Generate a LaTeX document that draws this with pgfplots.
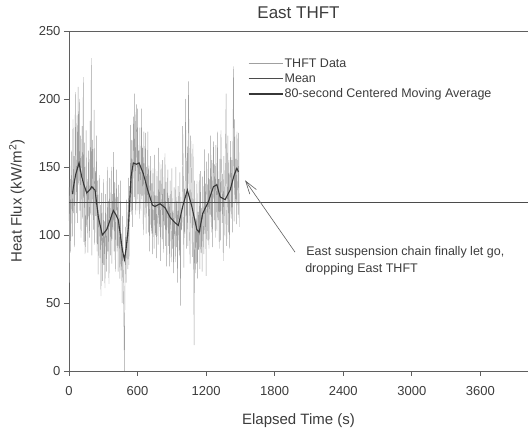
\documentclass[border=0pt]{standalone}
\usepackage{fontspec}
\setmainfont{Liberation Sans}
\usepackage{pgfplots}
\pgfplotsset{compat=1.18}
\usetikzlibrary{arrows.meta}
\definecolor{txt}{RGB}{60,60,60}
\definecolor{axc}{RGB}{95,95,95}
\definecolor{raw}{RGB}{160,160,160}
\definecolor{meanc}{RGB}{75,75,75}
\definecolor{mac}{RGB}{55,55,55}
\begin{document}
\begin{tikzpicture}
\useasboundingbox (-69pt,-63pt) rectangle (459pt,371pt);
\begin{axis}[
 scale only axis, width=459pt, height=340pt,
 xmin=0, xmax=4017, ymin=0, ymax=250,
 axis x line*=box, axis y line*=left, xtick pos=bottom, ytick pos=left,
 xtick={0,600,1200,1800,2400,3000,3600}, ytick={0,50,100,150,200,250},
 tick align=outside, major tick length=5pt,
 axis line style={axc, line width=0.6pt}, tick style={axc, line width=0.6pt},
 ticklabel style={font=\fontsize{13}{15}\selectfont, text=txt},
 /pgf/number format/assume math mode=true,
 scaled ticks=false, xticklabel style={/pgf/number format/1000 sep={}, yshift=-7pt},
 title={East THFT},
 title style={font=\fontsize{17}{20}\selectfont, text=txt, at={(axis description cs:0.5,1)}, anchor=base, yshift=7pt},
 xlabel={Elapsed Time (s)}, ylabel={Heat Flux (kW/m\textsuperscript{2})},
 every axis x label/.style={at={(axis description cs:0.5,-0.1559)}, anchor=base, font=\fontsize{15}{18}\selectfont, text=txt},
 every axis y label/.style={at={(axis description cs:-0.1133,0.5)}, rotate=90, anchor=center, font=\fontsize{15}{18}\selectfont, text=txt},
 legend style={at={(axis description cs:0.383,0.93)}, anchor=north west, draw=none, fill=none, font=\fontsize{12.5}{15}\selectfont, text=txt, legend cell align=left, nodes={inner sep=1.5pt}, row sep=2pt},
 legend image code/.code={\draw[#1] (0pt,0pt) -- (28pt,0pt); \path (28pt,0pt) -- (34pt,0pt);},
]
\addplot[raw, line width=0.4pt] coordinates {
(0,135) (5,65) (10,141) (15,87) (20,162) (25,123) (30,99) (35,185) (40,116) (45,158)
(50,91) (55,205) (60,150) (65,116) (70,188) (75,109) (80,209) (85,137) (90,200) (95,118)
(100,173) (105,98) (110,151) (115,180) (120,112) (125,216) (130,95) (135,168) (140,86) (145,96)
(150,177) (155,106) (160,141) (165,87) (170,162) (175,123) (180,98) (185,184) (190,115) (195,230)
(200,85) (205,170) (210,139) (215,104) (220,192) (225,93) (230,147) (235,114) (240,173) (245,88)
(250,140) (255,71) (260,119) (265,144) (270,83) (275,122) (280,55) (285,131) (290,96) (295,66)
(300,141) (305,78) (310,110) (315,61) (320,130) (325,94) (330,73) (335,150) (340,88) (345,125)
(350,64) (355,142) (360,116) (365,85) (370,150) (375,79) (380,130) (385,104) (390,161) (395,88)
(400,139) (405,73) (410,122) (415,148) (420,88) (425,128) (430,73) (435,137) (440,100) (445,68)
(450,140) (455,74) (460,101) (465,50) (470,114) (475,76) (480,40) (485,0) (490,67) (495,106)
(500,65) (505,126) (510,103) (515,75) (520,142) (525,78) (530,136) (535,117) (540,181) (545,115)
(550,170) (555,106) (560,159) (565,187) (570,128) (575,204) (580,115) (585,181) (590,196) (595,118)
(600,193) (605,130) (610,162) (615,112) (620,179) (625,142) (630,118) (635,193) (640,129) (645,164)
(650,100) (655,176) (660,147) (665,113) (670,175) (675,101) (680,150) (685,121) (690,176) (695,102)
(700,151) (705,88) (710,133) (715,158) (720,101) (725,138) (730,86) (735,149) (740,118) (745,90)
(750,159) (755,100) (760,129) (765,83) (770,147) (775,114) (780,93) (785,164) (790,106) (795,140)
(800,81) (805,152) (810,126) (815,97) (820,155) (825,87) (830,134) (835,107) (840,160) (845,92)
(850,139) (855,77) (860,123) (865,148) (870,92) (875,129) (880,77) (885,140) (890,108) (895,80)
(900,149) (905,90) (910,118) (915,72) (920,135) (925,101) (930,80) (935,150) (940,91) (945,125)
(950,65) (955,136) (960,112) (965,85) (970,146) (975,48) (980,128) (985,104) (990,110) (995,180)
(1000,148) (1005,76) (1010,134) (1015,101) (1020,200) (1025,148) (1030,90) (1035,165) (1040,92) (1045,213)
(1050,173) (1055,102) (1060,79) (1065,173) (1070,152) (1075,111) (1080,84) (1085,167) (1090,95) (1095,19)
(1100,140) (1105,72) (1110,112) (1115,79) (1120,140) (1125,68) (1130,117) (1135,89) (1140,145) (1145,75)
(1150,147) (1155,87) (1160,120) (1165,73) (1170,143) (1175,108) (1180,86) (1185,163) (1190,101) (1195,138)
(1200,70) (1205,154) (1210,127) (1215,96) (1220,160) (1225,90) (1230,141) (1235,115) (1240,173) (1245,102)
(1250,155) (1255,91) (1260,142) (1265,169) (1270,111) (1275,152) (1280,98) (1285,166) (1290,132) (1295,103)
(1300,176) (1305,111) (1310,141) (1315,90) (1320,156) (1325,96) (1330,177) (1335,140) (1340,109) (1345,145)
(1350,81) (1355,158) (1360,131) (1365,99) (1370,163) (1375,204) (1380,92) (1385,116) (1390,173) (1395,102)
(1400,155) (1405,90) (1410,140) (1415,169) (1420,112) (1425,155) (1430,102) (1435,171) (1440,224) (1445,110)
(1450,185) (1455,124) (1460,156) (1465,108) (1470,176) (1475,140) (1480,115) (1485,175) (1490,106)
};
\addlegendentry{THFT Data}
\addplot[meanc, line width=0.7pt] coordinates {(0,124.1) (4017,124.1)};
\addlegendentry{Mean}
\addplot[mac, line width=1.1pt] coordinates {
(30,130) (38,135) (60,145) (88,153) (111,143) (130,137) (155,131) (180,133) (199,135.5) (228,133)
(257,113) (292,100) (330,104) (360,111) (388,118) (410,115) (432,111) (467,89) (485,82) (500,90)
(520,106) (543,143) (563,153) (590,152) (613,153) (651,145) (689,133) (730,122) (753,121) (797,123)
(841,120) (885,113) (928,109) (957,107) (1001,123) (1036,133) (1075,121) (1119,104) (1139,102) (1171,116)
(1220,124.5) (1264,135.5) (1294,137) (1323,128) (1366,126) (1410,133) (1445,144) (1469,149) (1483,146.5)
};
\addlegendentry{80-second Centered Moving Average}
\draw[axc, line width=0.6pt, -{Straight Barb[length=13pt,width=8pt]}] (axis cs:1978,87.4) -- (axis cs:1541,140.2);
\node[anchor=base west, inner sep=0pt, font=\fontsize{12.5}{15}\selectfont, text=txt] at (axis cs:2075,85.2) {East suspension chain finally let go,};
\node[anchor=base west, inner sep=0pt, font=\fontsize{12.5}{15}\selectfont, text=txt] at (axis cs:2066,72.7) {dropping East THFT};
\end{axis}
\end{tikzpicture}
\end{document}
